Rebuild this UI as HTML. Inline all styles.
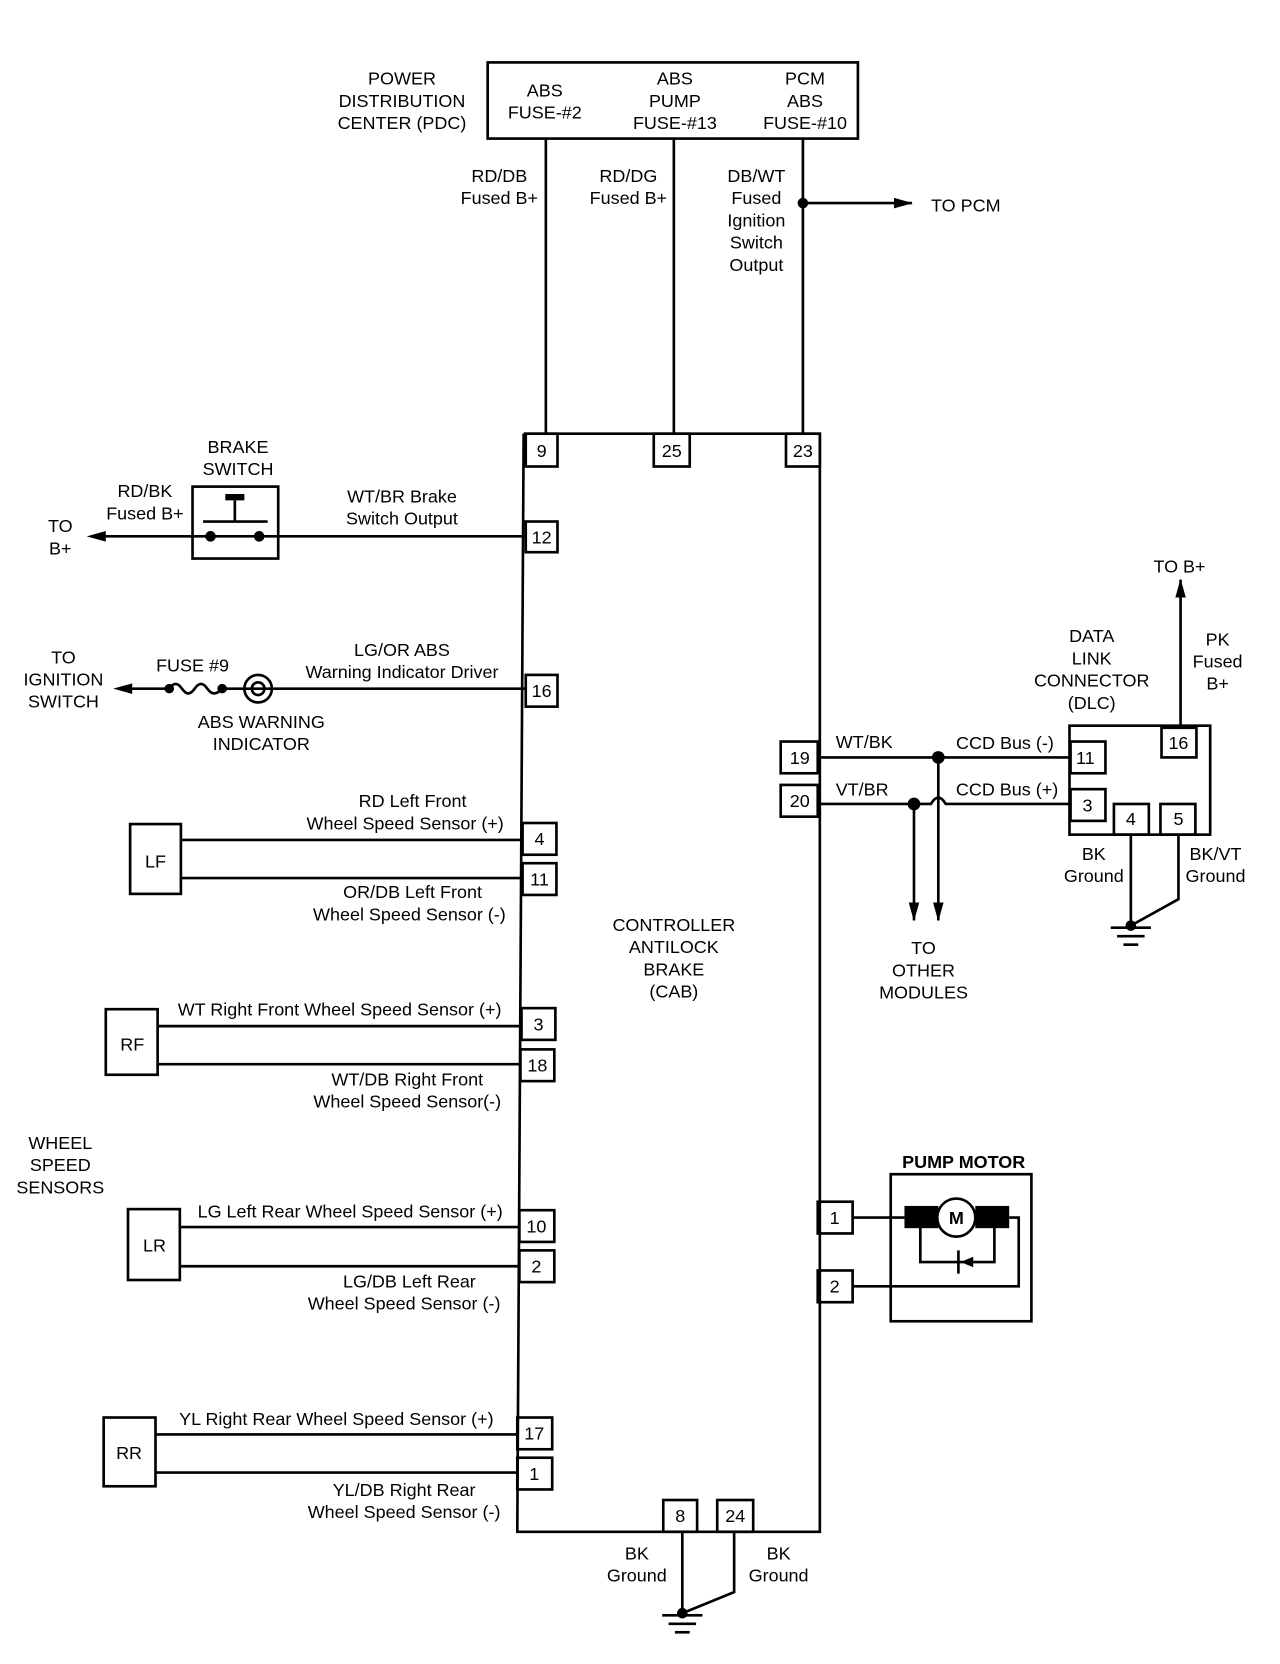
<!DOCTYPE html>
<html><head><meta charset="utf-8"><style>
html,body{margin:0;padding:0;background:#fff}
svg{display:block}
text{font-family:"Liberation Sans",Arial,sans-serif;font-size:17px;fill:#000;text-anchor:middle}
</style></head><body>
<svg width="1280" height="1664" viewBox="0 0 1210 1573" preserveAspectRatio="none" xmlns="http://www.w3.org/2000/svg">
<defs>
<marker id="b" markerWidth="18" markerHeight="10" refX="17" refY="5" orient="auto" markerUnits="userSpaceOnUse"><path d="M0,0 L18,5 L0,10 Z" fill="#000"/></marker></defs>
<g fill="none" stroke="#000" stroke-width="2.5">
<rect x="461" y="59" width="350" height="72"/>
<line x1="516" y1="131" x2="516" y2="410"/>
<line x1="637" y1="131" x2="637" y2="410"/>
<line x1="759" y1="131" x2="759" y2="410"/>
<line x1="759" y1="192" x2="862" y2="192" marker-end="url(#b)"/>
<path d="M495,410 L775,410 L775,1448 L489,1448 L495,410"/>
<rect x="497" y="410" width="30" height="31"/>
<rect x="618" y="410" width="34" height="31"/>
<rect x="743" y="410" width="32" height="31"/>
<rect x="497" y="493" width="30" height="29"/>
<rect x="497" y="638" width="30" height="30"/>
<rect x="494" y="778" width="32" height="30"/>
<rect x="494" y="816" width="32" height="30"/>
<rect x="493" y="953" width="32" height="30"/>
<rect x="492" y="992" width="32" height="30"/>
<rect x="491" y="1144" width="33" height="30"/>
<rect x="491" y="1182" width="33" height="30"/>
<rect x="489" y="1340" width="33" height="30"/>
<rect x="489" y="1378" width="33" height="30"/>
<rect x="738" y="701" width="35" height="30"/>
<rect x="738" y="742" width="35" height="30"/>
<rect x="773" y="1136" width="33" height="30"/>
<rect x="773" y="1201" width="33" height="30"/>
<rect x="627" y="1418" width="32" height="30"/>
<rect x="678" y="1418" width="34" height="30"/>
<line x1="645" y1="1448" x2="645" y2="1525"/>
<path d="M694,1448 L694,1505 L645,1525"/>
<line x1="626" y1="1527" x2="664" y2="1527"/><line x1="632" y1="1535" x2="658" y2="1535"/><line x1="638" y1="1543" x2="652" y2="1543"/>
<rect x="182" y="460" width="81" height="68"/>
<line x1="96" y1="507" x2="497" y2="507"/>
<line x1="192" y1="493" x2="253" y2="493"/>
<line x1="222" y1="493" x2="222" y2="473"/>
<line x1="120" y1="651" x2="160" y2="651"/>
<path d="M160,651 q6,-9 12,0 q6,9 12,0 q6,-9 12,0 q6,9 14,0"/>
<line x1="210" y1="651" x2="497" y2="651"/>
<circle cx="244" cy="651" r="13"/>
<circle cx="244" cy="651" r="6"/>
<rect x="123" y="779" width="48" height="66"/>
<line x1="171" y1="794" x2="494" y2="794"/><line x1="171" y1="830" x2="494" y2="830"/>
<rect x="100" y="954" width="49" height="62"/>
<line x1="149" y1="970" x2="493" y2="970"/><line x1="149" y1="1006" x2="492" y2="1006"/>
<rect x="121" y="1143" width="49" height="67"/>
<line x1="170" y1="1160" x2="491" y2="1160"/><line x1="170" y1="1197" x2="491" y2="1197"/>
<rect x="98" y="1340" width="49" height="65"/>
<line x1="147" y1="1356" x2="489" y2="1356"/><line x1="147" y1="1392" x2="489" y2="1392"/>
<rect x="1011" y="686" width="133" height="103"/>
<rect x="1098" y="688" width="33" height="28"/>
<rect x="1012" y="701" width="33" height="30"/>
<rect x="1012" y="746" width="33" height="30"/>
<rect x="1053" y="760" width="33" height="29"/>
<rect x="1097" y="760" width="33" height="29"/>
<line x1="773" y1="716" x2="1012" y2="716"/>
<path d="M773,760 L880,760 q7,-12 14,0 L1012,760"/>
<line x1="864" y1="760" x2="864" y2="870" marker-end="url(#b)"/>
<line x1="887" y1="716" x2="887" y2="870" marker-end="url(#b)"/>
<line x1="1116" y1="688" x2="1116" y2="548" marker-end="url(#b)"/>
<line x1="1069" y1="789" x2="1069" y2="875"/>
<path d="M1114,789 L1114,850 L1069,875"/>
<line x1="1050" y1="877" x2="1088" y2="877"/><line x1="1056" y1="885" x2="1082" y2="885"/><line x1="1062" y1="893" x2="1076" y2="893"/>
<rect x="842" y="1110" width="133" height="139"/>
<line x1="806" y1="1151" x2="855" y2="1151"/>
<path d="M954,1151 L963,1151 L963,1216 L806,1216"/>
<path d="M870,1160 L870,1193 L940,1193 L940,1160"/>
<line x1="906" y1="1182" x2="906" y2="1204"/>
</g>
<g fill="#000">
<circle cx="759" cy="192" r="5"/>
<circle cx="887" cy="716" r="6"/><circle cx="864" cy="760" r="6"/>
<circle cx="1069" cy="875" r="5"/><circle cx="645" cy="1525" r="5"/>
<circle cx="199" cy="507" r="5"/><circle cx="245" cy="507" r="5"/>
<path d="M213,473 h18 v-6 h-18z"/>
<circle cx="160" cy="651" r="4.5"/><circle cx="210" cy="651" r="4.5"/>
<path d="M82,507 l18,-5 v10z"/>
<path d="M107,651 l18,-5 v10z"/>
<rect x="855" y="1140" width="32" height="21"/><rect x="922" y="1140" width="32" height="21"/>
<path d="M908,1193 l12,-5 v10z"/>
</g>
<circle cx="904" cy="1151" r="18" fill="#fff" stroke="#000" stroke-width="2.5"/>
<text x="904" y="1157" font-weight="bold">M</text>
<text x="380" y="80">POWER</text><text x="380" y="101">DISTRIBUTION</text><text x="380" y="122">CENTER (PDC)</text>
<text x="515" y="91">ABS</text><text x="515" y="112">FUSE-#2</text>
<text x="638" y="80">ABS</text><text x="638" y="101">PUMP</text><text x="638" y="122">FUSE-#13</text>
<text x="761" y="80">PCM</text><text x="761" y="101">ABS</text><text x="761" y="122">FUSE-#10</text>
<text x="472" y="172">RD/DB</text><text x="472" y="193">Fused B+</text>
<text x="594" y="172">RD/DG</text><text x="594" y="193">Fused B+</text>
<text x="715" y="172">DB/WT</text><text x="715" y="193">Fused</text><text x="715" y="214">Ignition</text><text x="715" y="235">Switch</text><text x="715" y="256">Output</text>
<text x="913" y="200">TO PCM</text>
<text x="512" y="432">9</text><text x="635" y="432">25</text><text x="759" y="432">23</text>
<text x="512" y="514">12</text><text x="512" y="659">16</text><text x="510" y="799">4</text><text x="510" y="837">11</text>
<text x="509" y="974">3</text><text x="508" y="1013">18</text><text x="507" y="1165">10</text><text x="507" y="1203">2</text>
<text x="505" y="1361">17</text><text x="505" y="1399">1</text>
<text x="756" y="722">19</text><text x="756" y="763">20</text>
<text x="789" y="1157">1</text><text x="789" y="1222">2</text>
<text x="643" y="1439">8</text><text x="695" y="1439">24</text>
<text x="225" y="428">BRAKE</text><text x="225" y="449">SWITCH</text>
<text x="137" y="470">RD/BK</text><text x="137" y="491">Fused B+</text>
<text x="57" y="503">TO</text><text x="57" y="524">B+</text>
<text x="380" y="475">WT/BR Brake</text><text x="380" y="496">Switch Output</text>
<text x="60" y="627">TO</text><text x="60" y="648">IGNITION</text><text x="60" y="669">SWITCH</text>
<text x="182" y="635">FUSE #9</text>
<text x="380" y="620">LG/OR ABS</text><text x="380" y="641">Warning Indicator Driver</text>
<text x="247" y="688">ABS WARNING</text><text x="247" y="709">INDICATOR</text>
<text x="390" y="763">RD Left Front</text><text x="383" y="784">Wheel Speed Sensor (+)</text>
<text x="147" y="820">LF</text>
<text x="390" y="849">OR/DB Left Front</text><text x="387" y="870">Wheel Speed Sensor (-)</text>
<text x="321" y="960">WT  Right Front Wheel Speed Sensor (+)</text>
<text x="125" y="993">RF</text>
<text x="385" y="1026">WT/DB Right Front</text><text x="385" y="1047">Wheel Speed Sensor(-)</text>
<text x="57" y="1086">WHEEL</text><text x="57" y="1107">SPEED</text><text x="57" y="1128">SENSORS</text>
<text x="331" y="1151">LG Left Rear Wheel Speed Sensor (+)</text>
<text x="146" y="1183">LR</text>
<text x="387" y="1217">LG/DB Left Rear</text><text x="382" y="1238">Wheel Speed Sensor (-)</text>
<text x="318" y="1347">YL  Right Rear Wheel Speed Sensor (+)</text>
<text x="122" y="1379">RR</text>
<text x="382" y="1414">YL/DB Right Rear</text><text x="382" y="1435">Wheel Speed Sensor (-)</text>
<text x="637" y="880">CONTROLLER</text><text x="637" y="901">ANTILOCK</text><text x="637" y="922">BRAKE</text><text x="637" y="943">(CAB)</text>
<text x="602" y="1474">BK</text><text x="602" y="1495">Ground</text>
<text x="736" y="1474">BK</text><text x="736" y="1495">Ground</text>
<text x="1115" y="541">TO B+</text>
<text x="1032" y="607">DATA</text><text x="1032" y="628">LINK</text><text x="1032" y="649">CONNECTOR</text><text x="1032" y="670">(DLC)</text>
<text x="1151" y="610">PK</text><text x="1151" y="631">Fused</text><text x="1151" y="652">B+</text>
<text x="817" y="707">WT/BK</text><text x="950" y="708">CCD Bus (-)</text>
<text x="815" y="752">VT/BR</text><text x="952" y="752">CCD Bus (+)</text>
<text x="1114" y="708">16</text><text x="1026" y="722">11</text><text x="1028" y="767">3</text><text x="1069" y="780">4</text><text x="1114" y="780">5</text>
<text x="1034" y="813">BK</text><text x="1034" y="834">Ground</text>
<text x="1149" y="813">BK/VT</text><text x="1149" y="834">Ground</text>
<text x="873" y="902">TO</text><text x="873" y="923">OTHER</text><text x="873" y="944">MODULES</text>
<text x="911" y="1104" font-weight="bold">PUMP MOTOR</text>
</svg>
</body></html>
